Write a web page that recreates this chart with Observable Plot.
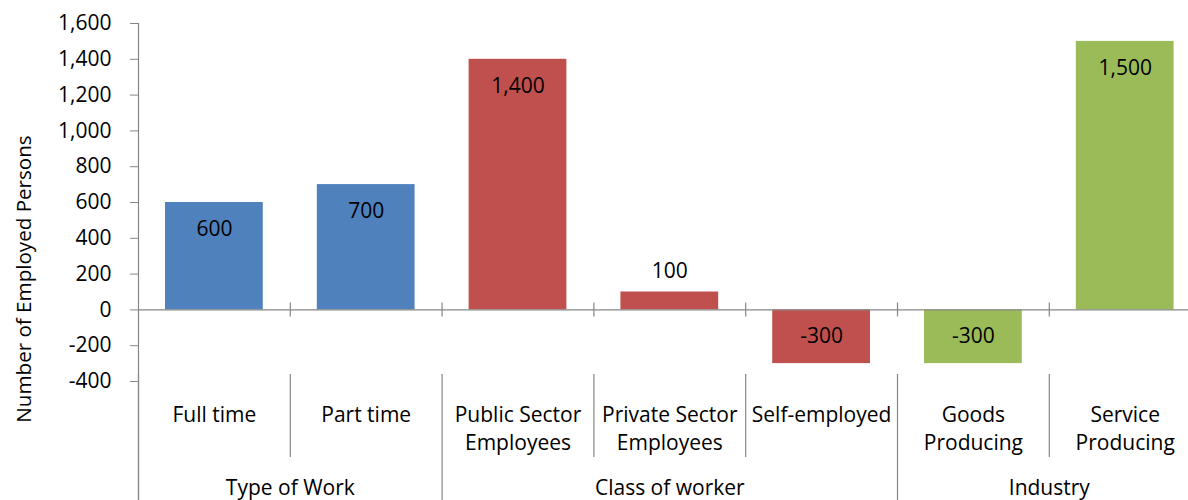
<!DOCTYPE html>
<html>
<head>
<meta charset="utf-8">
<script src="https://cdn.jsdelivr.net/npm/d3@7"></script>
<script src="https://cdn.jsdelivr.net/npm/@observablehq/plot@0.6"></script>
<style>
  body { margin: 0; background: #fff; }
  #chart svg { font-family: "Open Sans", Lato, sans-serif; }
</style>
</head>
<body>
<div id="chart"></div>
<script>
// ---- data ----
const categories = ["Full time", "Part time", "Public Sector\nEmployees", "Private Sector\nEmployees", "Self-employed", "Goods\nProducing", "Service\nProducing"];
const values = [600, 700, 1400, 100, -300, -300, 1500];
const groups = ["Type of Work", "Class of worker", "Industry"];
const groupSizes = [2, 3, 2];
const groupColors = ["#4F81BD", "#C0504D", "#9BBB59"];
const yTicks = [-400, -200, 0, 200, 400, 600, 800, 1000, 1200, 1400, 1600];
const yLabel = "Number of Employed Persons";

// ---- derived tables ----
const groupIndex = groupSizes.flatMap((n, g) => Array(n).fill(g));
const rows = categories.map((c, i) => ({i, cat: c, value: values[i], group: groups[groupIndex[i]], color: groupColors[groupIndex[i]]}));
let start = 0;
const groupRows = groups.map((g, k) => { const r = {g, x0: start, x1: start + groupSizes[k]}; start += groupSizes[k]; return r; });
const groupEdges = [0, ...groupRows.map(d => d.x1)];
const innerEdges = d3.range(1, categories.length).filter(e => !groupEdges.includes(e));
const allEdges = d3.range(1, categories.length + 1);

const pad = 0.178;
const fmt = d => d.toLocaleString("en-US");
const grey = "#868686";
const fs = 21;

const labelOpts = {x: d => d.i + 0.5, y: "value", text: d => fmt(d.value), fill: "black", fontSize: fs};

const chart = Plot.plot({
  width: 1188,
  height: 500,
  marginTop: 23,
  marginBottom: 0,
  marginLeft: 138,
  marginRight: 0,
  style: {fontSize: fs + "px", color: "black", background: "white"},
  x: {domain: [0, categories.length], range: [138, 1200.6], axis: null},
  y: {domain: [-400, 1600], range: [381, 23], axis: null},
  marks: [
    Plot.rectY(rows, {x1: d => d.i + pad, x2: d => d.i + 1 - pad, y1: 0, y2: "value", fill: "color"}),
    Plot.ruleY([0], {stroke: grey, strokeWidth: 1.2}),
    Plot.ruleX(allEdges, {x: d => d, y1: 0, y2: 0, insetTop: -7, insetBottom: -7, stroke: grey, strokeWidth: 1.2}),
    Plot.axisY({ticks: yTicks, tickSize: 8, tickPadding: 19, tickFormat: fmt, stroke: grey, fill: "black", fontSize: fs, label: null}),
    Plot.ruleX([0], {x: d => d, stroke: grey, strokeWidth: 1.2}),
    Plot.ruleX(groupEdges, {x: d => d, insetTop: 351, stroke: grey, strokeWidth: 1.2}),
    Plot.ruleX(innerEdges, {x: d => d, insetTop: 351, insetBottom: 43, stroke: grey, strokeWidth: 1.2}),
    Plot.text(rows.filter(d => d.value >= 200), {...labelOpts, dy: 27}),
    Plot.text(rows.filter(d => d.value >= 0 && d.value < 200), {...labelOpts, dy: -21}),
    Plot.text(rows.filter(d => d.value < 0), {...labelOpts, dy: -27}),
    Plot.text(rows, {x: d => d.i + 0.5, text: "cat", frameAnchor: "bottom", lineAnchor: "top", dy: -99, lineHeight: 1.36, fill: "black", fontSize: fs}),
    Plot.text(groupRows, {x: d => (d.x0 + d.x1) / 2, text: "g", frameAnchor: "bottom", dy: -5.5, fill: "black", fontSize: fs}),
    Plot.text([yLabel], {text: d => d, frameAnchor: "left", textAnchor: "middle", rotate: -90, dx: -114, dy: 17, fill: "black", fontSize: 20.6})
  ]
});
document.getElementById("chart").append(chart);
</script>
</body>
</html>
